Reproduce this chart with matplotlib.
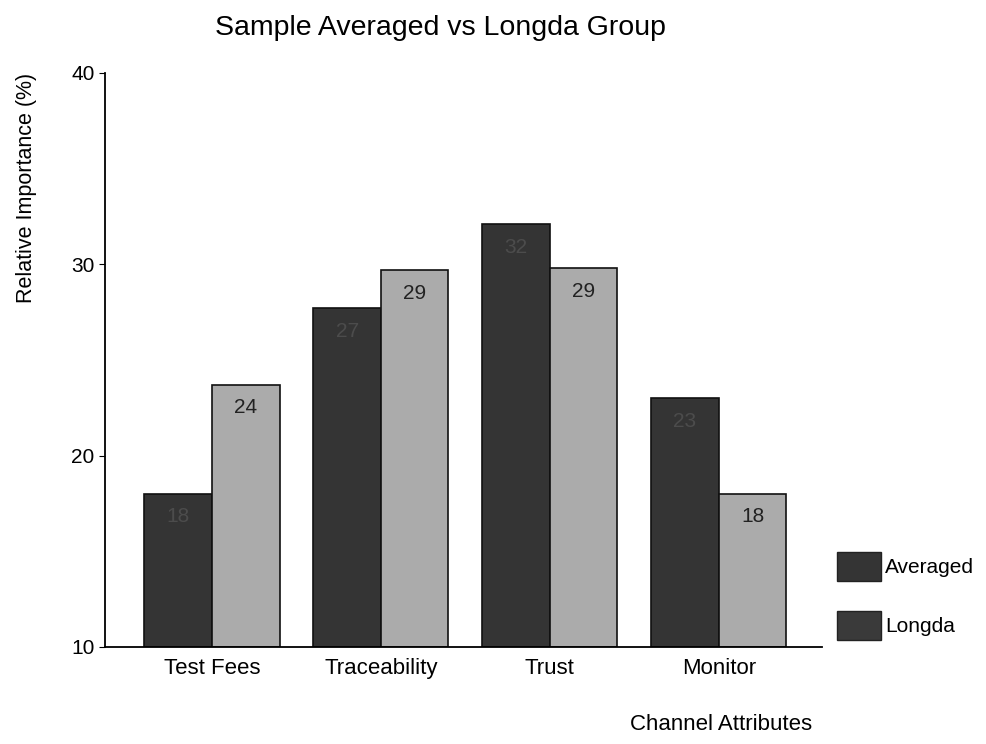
import matplotlib
matplotlib.use("Agg")
from matplotlib import pyplot as plt
from matplotlib.patches import Patch
import numpy as np

plt.rcParams['font.family'] = ['Liberation Sans', 'DejaVu Sans']

categories = ['Test Fees', 'Traceability', 'Trust', 'Monitor']
averaged = [18.0, 27.7, 32.1, 23.0]
longda = [23.7, 29.7, 29.8, 18.0]
averaged_labels = ['18', '27', '32', '23']
longda_labels = ['24', '29', '29', '18']

dark = '#343434'
light = '#ababab'

fig = plt.figure(figsize=(9.86, 7.44), dpi=100)
ax = fig.add_axes([0.1065, 0.1304, 0.727, 0.7715])

x = np.arange(len(categories))
w = 0.4
ax.bar(x - w / 2, np.array(averaged) - 10, w, bottom=10, color=dark,
       edgecolor='#111111', linewidth=1.2)
ax.bar(x + w / 2, np.array(longda) - 10, w, bottom=10, color=light,
       edgecolor='#111111', linewidth=1.2)

for xi, v, t in zip(x - w / 2, averaged, averaged_labels):
    ax.text(xi, v - 1.2, t, ha='center', va='center', fontsize=15, color='#4c4c4c')
for xi, v, t in zip(x + w / 2, longda, longda_labels):
    ax.text(xi, v - 1.2, t, ha='center', va='center', fontsize=15, color='#222222')

ax.set_ylim(10, 40)
ax.set_xlim(-0.633, 3.61)
ax.set_yticks([10, 20, 30, 40])
ax.set_xticks(x)
ax.set_xticklabels(categories, fontsize=16)
ax.tick_params(axis='x', length=0, pad=8)
ax.tick_params(axis='y', length=4, labelsize=15, direction='out')
ax.spines['top'].set_visible(False)
ax.spines['right'].set_visible(False)
ax.spines['left'].set_linewidth(1.3)
ax.spines['bottom'].set_linewidth(1.3)
ax.set_ylabel('Relative Importance (%)', fontsize=15.5)
ax.yaxis.set_label_coords(-0.095, 0.8)

fig.text(0.447, 0.962, 'Sample Averaged vs Longda Group', ha='center', va='center', fontsize=20.5)
fig.text(0.731, 0.012, 'Channel Attributes', ha='center', va='bottom', fontsize=16)

handles = [Patch(facecolor=dark, edgecolor='#222222'),
           Patch(facecolor='#3a3a3a', edgecolor='#222222')]
fig.legend(handles, ['Averaged', 'Longda'], loc='upper left',
           bbox_to_anchor=(0.849, 0.258), frameon=False, fontsize=15,
           handlelength=2.1, handleheight=1.75, handletextpad=0.2,
           labelspacing=1.45, borderpad=0, borderaxespad=0)

fig.savefig('out.png', dpi=100)
